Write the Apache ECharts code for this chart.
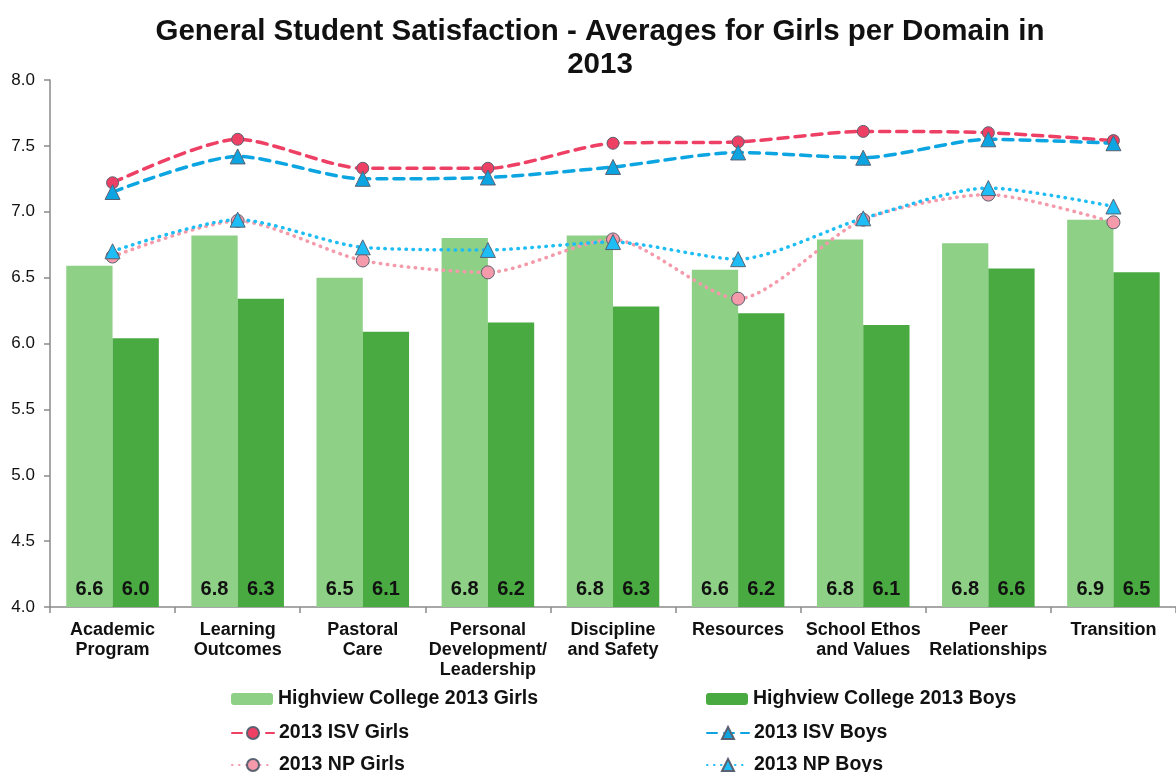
<!DOCTYPE html>
<html>
<head>
<meta charset="utf-8">
<script src="https://cdn.jsdelivr.net/npm/echarts@6/dist/echarts.min.js"></script>
<style>
  html, body { margin: 0; padding: 0; background: #fff; }
  #chart { width: 1176px; height: 772px; }
</style>
</head>
<body>
<div id="chart"></div>
<script>
const categories = [
  'Academic\nProgram', 'Learning\nOutcomes', 'Pastoral\nCare',
  'Personal\nDevelopment/\nLeadership', 'Discipline\nand Safety', 'Resources',
  'School Ethos\nand Values', 'Peer\nRelationships', 'Transition'
]
const hvGirls = [6.59, 6.82, 6.50, 6.80, 6.82, 6.56, 6.79, 6.76, 6.94]
const hvBoys  = [6.04, 6.34, 6.09, 6.16, 6.28, 6.23, 6.14, 6.57, 6.54]
const isvGirls = [7.22, 7.55, 7.33, 7.33, 7.52, 7.53, 7.61, 7.60, 7.54]
const isvBoys  = [7.15, 7.42, 7.25, 7.26, 7.34, 7.45, 7.41, 7.55, 7.52]
const npGirls  = [6.66, 6.93, 6.63, 6.54, 6.79, 6.34, 6.94, 7.13, 6.92]
const npBoys   = [6.70, 6.94, 6.73, 6.71, 6.77, 6.64, 6.95, 7.18, 7.04]

const FONT = '"Liberation Sans", Arial, sans-serif'
const LIGHT = '#8dd086'
const DARK = '#4aaa42'
const RED = '#ee3f64'
const BLUE = '#0ca5e2'
const PINK = '#f49aaa'
const SKY = '#1ebdf5'
const EDGE = '#5a6272'

const chart = echarts.init(document.getElementById('chart'))

const barLabel = {
  show: true, position: 'insideBottom', distance: 8,
  formatter: p => p.value.toFixed(1),
  fontFamily: FONT, fontWeight: 'bold', fontSize: 20, color: '#111'
}

function lineSeries(name, data, color, dash, symbol, size, width) {
  return {
    name, type: 'line', data, smooth: 0.25,
    symbol, symbolSize: size,
    lineStyle: { color, width, type: dash, cap: 'round' },
    itemStyle: { color, borderColor: EDGE, borderWidth: 1 },
    z: 3
  }
}

const legendText = { fontFamily: FONT, fontWeight: 'bold', fontSize: 19.5, color: '#111' }

// one legend per entry so the 2x3 grid sits where it does in the original
function legendAt(name, left, centerY, h) {
  return {
    data: [name], left, top: centerY - 11, padding: 0,
    itemWidth: 42, itemHeight: h, itemGap: 4, textStyle: legendText
  }
}

chart.setOption({
  animation: false,
  title: {
    text: 'General Student Satisfaction - Averages for Girls per Domain in\n2013',
    left: 595, textAlign: 'center', top: 10,
    textStyle: { fontFamily: FONT, fontWeight: 'bold', fontSize: 29.5, color: '#111', lineHeight: 33 }
  },
  legend: [
    legendAt('Highview College 2013 Girls', 231, 700, 12),
    legendAt('2013 ISV Girls', 231, 734, 15),
    legendAt('2013 NP Girls', 231, 766, 15),
    legendAt('Highview College 2013 Boys', 706, 700, 12),
    legendAt('2013 ISV Boys', 706, 734, 15),
    legendAt('2013 NP Boys', 706, 766, 15)
  ],
  grid: { left: 50, top: 80, width: 1138, bottom: 165 },
  xAxis: {
    type: 'category', data: categories,
    axisLine: { lineStyle: { color: '#8a8a8a', width: 1.5 } },
    axisTick: { show: true, length: 6, lineStyle: { color: '#8a8a8a', width: 1.5 } },
    axisLabel: {
      interval: 0, margin: 13, fontFamily: FONT, fontWeight: 'bold',
      fontSize: 18, lineHeight: 20, color: '#111'
    }
  },
  yAxis: {
    type: 'value', min: 4, max: 8, interval: 0.5,
    axisLine: { show: true, lineStyle: { color: '#8a8a8a', width: 1.5 } },
    axisTick: { show: true, length: 6, lineStyle: { color: '#8a8a8a', width: 1.5 } },
    splitLine: { show: false },
    axisLabel: {
      margin: 15, fontFamily: FONT, fontSize: 17, color: '#111',
      formatter: v => v.toFixed(1)
    }
  },
  series: [
    {
      name: 'Highview College 2013 Girls', type: 'bar', data: hvGirls,
      barGap: '0%', barCategoryGap: '26%',
      itemStyle: { color: LIGHT }, label: barLabel
    },
    {
      name: 'Highview College 2013 Boys', type: 'bar', data: hvBoys,
      itemStyle: { color: DARK }, label: barLabel
    },
    lineSeries('2013 ISV Girls', isvGirls, RED, [10, 7], 'circle', 12, 3.5),
    lineSeries('2013 ISV Boys', isvBoys, BLUE, [10, 7], 'triangle', 15, 3.5),
    lineSeries('2013 NP Girls', npGirls, PINK, [0.5, 6.5], 'circle', 13, 3.5),
    lineSeries('2013 NP Boys', npBoys, SKY, [0.5, 6.5], 'triangle', 15, 3.5)
  ]
})
</script>
</body>
</html>
